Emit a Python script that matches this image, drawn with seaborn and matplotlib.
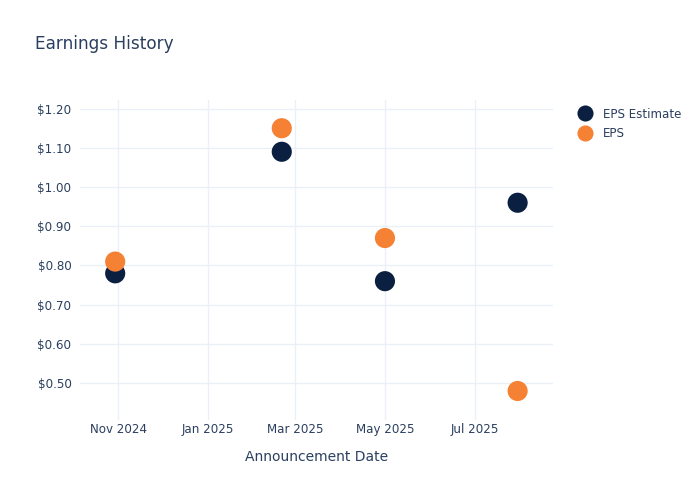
import matplotlib.pyplot as plt
import matplotlib.dates as mdates
from matplotlib.ticker import FuncFormatter
import pandas as pd
import seaborn as sns

dates = ["2024-10-30", "2025-02-20", "2025-05-01", "2025-07-30"]
eps_estimate = [0.78, 1.09, 0.76, 0.96]
eps_actual = [0.81, 1.15, 0.87, 0.48]

df = pd.concat([
    pd.DataFrame({"Date": pd.to_datetime(dates), "Value": eps_estimate, "Series": "EPS Estimate"}),
    pd.DataFrame({"Date": pd.to_datetime(dates), "Value": eps_actual, "Series": "EPS"}),
])

text_color = "#2a3f5f"
grid_color = "#ebf0f8"
palette = {"EPS Estimate": "#0b1f41", "EPS": "#f58134"}

sns.set_style("white")
plt.rcParams['font.family'] = ['DejaVu Sans']

fig = plt.figure(figsize=(7, 5), dpi=100)
ax = fig.add_axes([0.114, 0.16, 0.676, 0.64])

sns.scatterplot(data=df, x="Date", y="Value", hue="Series", palette=palette,
                s=210, edgecolor="none", ax=ax, zorder=3)

ax.set_xlim(pd.Timestamp("2024-10-06"), pd.Timestamp("2025-08-23"))
ax.set_ylim(0.406, 1.222)
ax.set_yticks([0.5, 0.6, 0.7, 0.8, 0.9, 1.0, 1.1, 1.2])
ax.yaxis.set_major_formatter(FuncFormatter(lambda v, p: "$%.2f" % v))
ax.xaxis.set_major_locator(mdates.MonthLocator(bymonth=[1, 3, 5, 7, 11]))
ax.xaxis.set_major_formatter(mdates.DateFormatter("%b %Y"))

ax.grid(True, color=grid_color, linewidth=1)
ax.set_axisbelow(True)
for s in ax.spines.values():
    s.set_visible(False)
ax.tick_params(axis="both", length=0, labelsize=8.6, colors=text_color, pad=6)
ax.tick_params(axis="x", pad=2)

ax.set_xlabel("Announcement Date", fontsize=10, color=text_color, labelpad=10)
ax.set_ylabel("")

fig.text(0.05, 0.912, "Earnings History", fontsize=12.2, color=text_color, va="center")

handles, labels = ax.get_legend_handles_labels()
leg = ax.legend(handles, labels, loc="upper left", bbox_to_anchor=(1.02, 1.01),
                frameon=False, fontsize=8.6, markerscale=0.8, handletextpad=0.5,
                labelspacing=0.55)
for t in leg.get_texts():
    t.set_color(text_color)

plt.savefig("out.png", dpi=100)
